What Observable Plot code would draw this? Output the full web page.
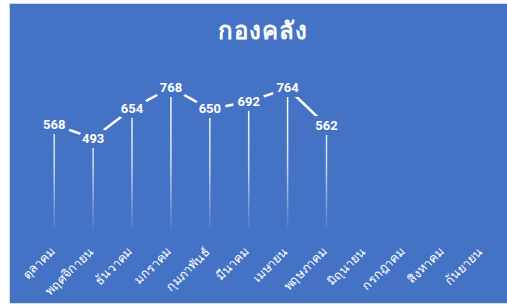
<!DOCTYPE html>
<html>
<head>
<meta charset="utf-8">
<script src="https://cdn.jsdelivr.net/npm/d3@7"></script>
<script src="https://cdn.jsdelivr.net/npm/@observablehq/plot@0.6"></script>
<style>
  html, body { margin: 0; padding: 0; background: #ffffff; overflow: hidden; }
  #card {
    position: absolute; left: 9px; top: 3px; width: 505px; height: 299px;
    background: #4472C4; border: 1px solid #d9d9d9;
  }
  #title {
    position: absolute; left: 0; top: 12px; width: 505px; text-align: center;
    color: #ffffff; font: bold 24px "Noto Sans", "DejaVu Sans", sans-serif; line-height: 28px;
    letter-spacing: 1px;
  }
  #chart { position: absolute; left: 0; top: 0; }
</style>
</head>
<body>
<div id="card">
  <div id="chart"></div>
  <div id="title">กองคลัง</div>
</div>
<script>
const months = ["ตุลาคม","พฤศจิกายน","ธันวาคม","มกราคม","กุมภาพันธ์","มีนาคม","เมษายน","พฤษภาคม","มิถุนายน","กรกฎาคม","สิงหาคม","กันยายน"];
const values = [568, 493, 654, 768, 650, 692, 764, 562];

const data = values.map((v, i) => ({month: months[i], value: v}));
const bg = "#4472C4";

const defs = () => {
  const d = d3.create("svg:defs");
  const g = d.append("linearGradient").attr("id", "drop")
    .attr("gradientUnits", "userSpaceOnUse")
    .attr("x1", 0).attr("x2", 0).attr("y1", 83).attr("y2", 225);
  g.append("stop").attr("offset", 0).attr("stop-color", "#fff").attr("stop-opacity", 1);
  g.append("stop").attr("offset", 0.55).attr("stop-color", "#fff").attr("stop-opacity", 0.75);
  g.append("stop").attr("offset", 1).attr("stop-color", "#fff").attr("stop-opacity", 0.05);
  return d.node();
};

const chart = Plot.plot({
  width: 505,
  height: 299,
  marginTop: 58.6,
  marginBottom: 74,
  marginLeft: 24.3,
  marginRight: 14,
  style: {background: "transparent", color: "#ffffff", fontFamily: "Roboto, 'Noto Sans', sans-serif", overflow: "visible"},
  x: {type: "point", domain: months, padding: 0.5, round: false, label: null, axis: null},
  y: {domain: [0, 900], axis: null},
  marks: [
    defs,
    Plot.ruleX(data, {x: "month", y1: 0, y2: "value", stroke: "url(#drop)", strokeWidth: 1.5}),
    Plot.line(data, {x: "month", y: "value", stroke: "#ffffff", strokeWidth: 2.5}),
    Plot.text(data, {x: "month", y: "value", text: d => String(d.value), fill: "#ffffff",
      stroke: bg, strokeWidth: 10, fontWeight: "bold", fontSize: 13}),
    Plot.text(months, {x: d => d, text: d => d, frameAnchor: "bottom", dy: 23, dx: 1, rotate: -45,
      textAnchor: "end", fontSize: 12.5, fill: "#ffffff",
      fontFamily: "'Noto Sans', 'DejaVu Sans', sans-serif"})
  ]
});
document.getElementById("chart").appendChild(chart);
</script>
</body>
</html>
